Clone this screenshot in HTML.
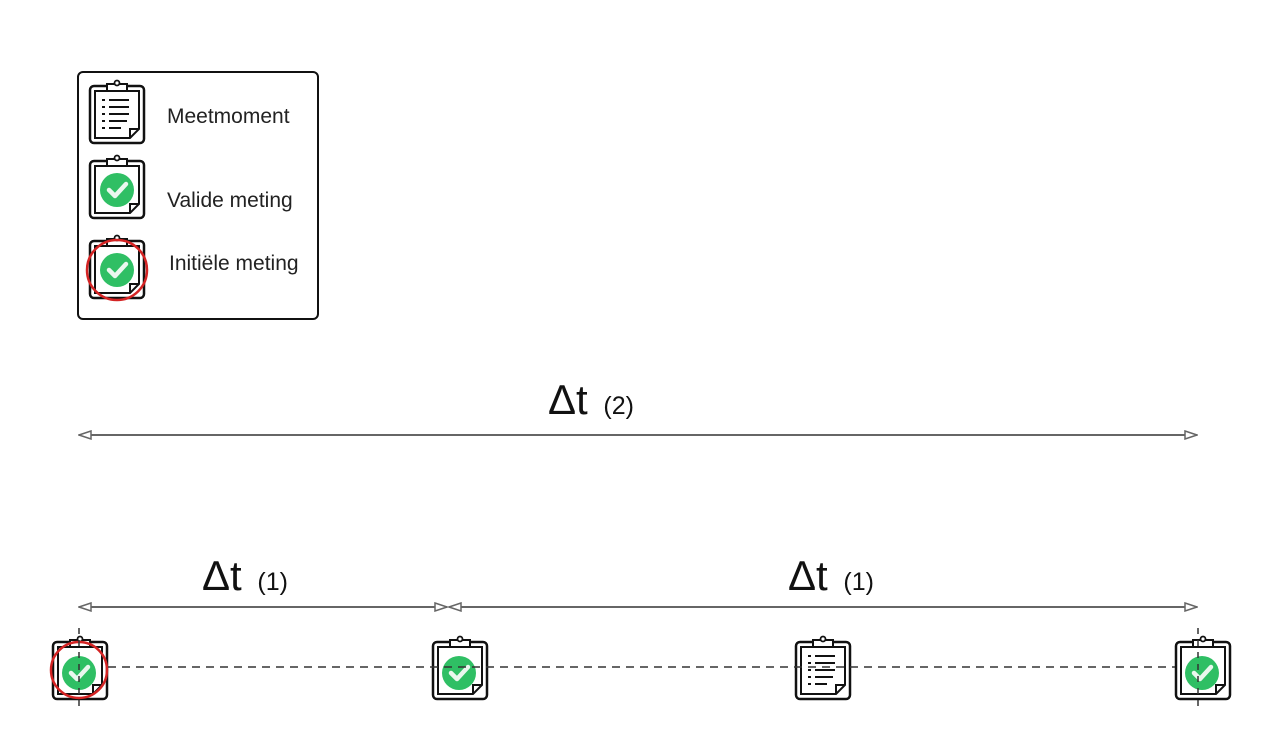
<!DOCTYPE html>
<html><head><meta charset="utf-8"><style>html,body{margin:0;padding:0;background:#fff}svg{display:block}</style></head>
<body>
<svg width="1267" height="754" viewBox="0 0 1267 754" xmlns="http://www.w3.org/2000/svg" font-family="Liberation Sans, sans-serif">
<defs>
<g id="cb">
  <rect x="1" y="6" width="54" height="57" rx="4" fill="#fff" stroke="#111" stroke-width="2.5"/>
  <path d="M6 11 H50 V49 L41 58 H6 Z" fill="#fff" stroke="#111" stroke-width="2"/>
  <path d="M41 58 V49 H50" fill="none" stroke="#111" stroke-width="2"/>
  <rect x="18" y="4" width="20" height="7" fill="#fff" stroke="#111" stroke-width="2"/>
  <circle cx="28" cy="3" r="2.5" fill="#fff" stroke="#111" stroke-width="1.8"/>
</g>
<g id="lines">
  <g stroke="#111" stroke-width="2">
  <line x1="13" y1="20" x2="16" y2="20"/><line x1="20" y1="20" x2="40" y2="20"/>
  <line x1="13" y1="27" x2="16" y2="27"/><line x1="20" y1="27" x2="40" y2="27"/>
  <line x1="13" y1="34" x2="16" y2="34"/><line x1="20" y1="34" x2="40" y2="34"/>
  <line x1="13" y1="41" x2="16" y2="41"/><line x1="20" y1="41" x2="38" y2="41"/>
  <line x1="13" y1="48" x2="16" y2="48"/><line x1="20" y1="48" x2="32" y2="48"/>
  </g>
</g>
<g id="check">
  <circle cx="0" cy="0" r="17" fill="#2fbf64"/>
  <path d="M-8 0 L-2 6 L9 -6" fill="none" stroke="#eaf7ee" stroke-width="4.5" stroke-linecap="round" stroke-linejoin="round"/>
</g>
<marker id="ah" markerWidth="14" markerHeight="10" refX="13" refY="5" orient="auto" markerUnits="userSpaceOnUse">
  <path d="M1 1 L13 5 L1 9 Z" fill="#fff" stroke="#666" stroke-width="1.5"/>
</marker>
<marker id="at" markerWidth="14" markerHeight="10" refX="1" refY="5" orient="auto" markerUnits="userSpaceOnUse">
  <path d="M13 1 L1 5 L13 9 Z" fill="#fff" stroke="#666" stroke-width="1.5"/>
</marker>
</defs>

<!-- legend -->
<rect x="78" y="72" width="240" height="247" rx="5" fill="#fff" stroke="#111" stroke-width="2"/>
<use href="#cb" x="89" y="80"/><use href="#lines" x="89" y="80"/>
<use href="#cb" x="89" y="155"/><use href="#check" x="117" y="190"/>
<use href="#cb" x="89" y="235"/><use href="#check" x="117" y="270"/>
<circle cx="117" cy="270" r="30" fill="none" stroke="#d42424" stroke-width="2.5"/>
<text x="167" y="123" font-size="21" fill="#222">Meetmoment</text>
<text x="167" y="207" font-size="21" fill="#222">Valide meting</text>
<text x="169" y="270" font-size="21" fill="#222">Initiële meting</text>

<!-- top arrow -->
<line x1="79" y1="435" x2="1197" y2="435" stroke="#666" stroke-width="2" marker-start="url(#at)" marker-end="url(#ah)"/>
<text x="548" y="414" font-size="42" fill="#111">Δt <tspan font-size="25" dx="4">(2)</tspan></text>

<!-- bottom arrows -->
<line x1="79" y1="607" x2="447" y2="607" stroke="#666" stroke-width="2" marker-start="url(#at)" marker-end="url(#ah)"/>
<line x1="449" y1="607" x2="1197" y2="607" stroke="#666" stroke-width="2" marker-start="url(#at)" marker-end="url(#ah)"/>
<text x="202" y="590" font-size="42" fill="#111">Δt <tspan font-size="25" dx="4">(1)</tspan></text>
<text x="788" y="590" font-size="42" fill="#111">Δt <tspan font-size="25" dx="4">(1)</tspan></text>

<!-- timeline -->
<use href="#cb" x="52" y="636"/><use href="#check" x="79" y="673"/>
<use href="#cb" x="432" y="636"/><use href="#check" x="459" y="673"/>
<use href="#cb" x="795" y="636"/><use href="#lines" x="795" y="636"/>
<use href="#cb" x="1175" y="636"/><use href="#check" x="1202" y="673"/>
<circle cx="79" cy="670" r="28" fill="none" stroke="#d42424" stroke-width="2.5"/>
<line x1="108" y1="667" x2="1175" y2="667" stroke="#333" stroke-width="1.5" stroke-dasharray="8 6"/>
<line x1="79" y1="628" x2="79" y2="708" stroke="#333" stroke-width="1.5" stroke-dasharray="6 6"/>
<line x1="1198" y1="628" x2="1198" y2="708" stroke="#333" stroke-width="1.5" stroke-dasharray="6 6"/>
</svg>
</body></html>
